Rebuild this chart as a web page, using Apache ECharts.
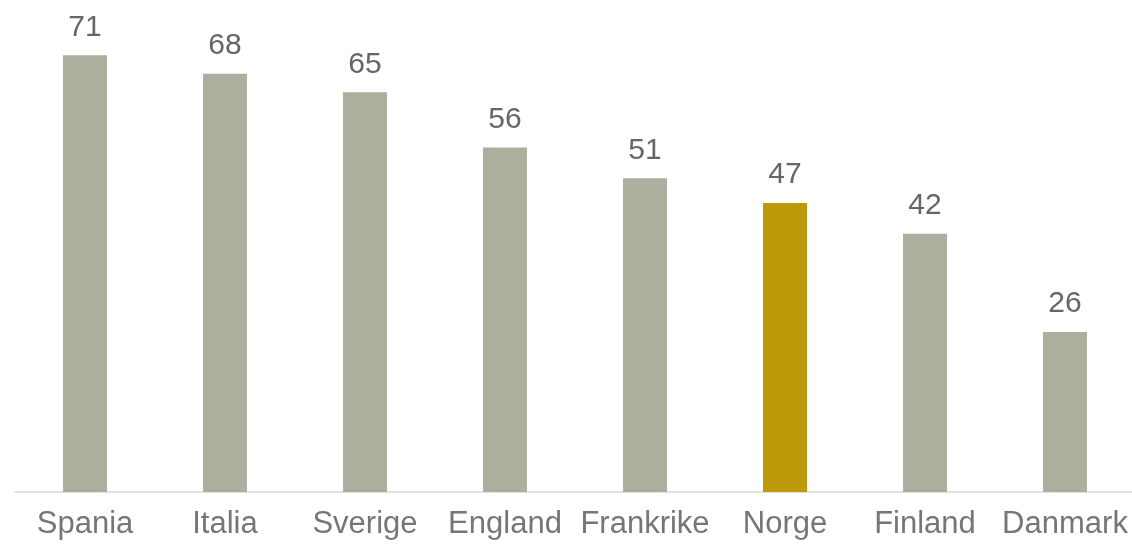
<!DOCTYPE html>
<html><head><meta charset="utf-8">
<script src="https://cdn.jsdelivr.net/npm/echarts@6/dist/echarts.min.js"></script>
<style>html,body{margin:0;padding:0;background:#fff;overflow:hidden;width:1132px;height:546px}#c{width:1140px;height:546px}</style>
</head><body><div id="c"></div>
<script>
const categories = ["Spania","Italia","Sverige","England","Frankrike","Norge","Finland","Danmark"];
const values = [71,68,65,56,51,47,42,26];
const highlight = "Norge";

const chart = echarts.init(document.getElementById('c'), null, {renderer:'canvas'});
chart.setOption({
  animation:false,
  grid:{left:15, top:0, bottom:54, width:1120, containLabel:false},
  xAxis:{type:'category', data:categories,
    axisLine:{lineStyle:{color:'#d9d9d9', width:1.5}},
    axisTick:{show:false},
    axisLabel:{color:'#767676', fontSize:31, fontFamily:'Liberation Sans, Arial', margin:17, interval:0}},
  yAxis:{type:'value', min:0, max:80, show:false, splitLine:{show:false}},
  series:[{type:'bar', barWidth:44,
    data: values.map((v,i)=>({value:v, itemStyle:{color: categories[i]===highlight ? '#bc9a0a' : '#adae9e'}})),
    label:{show:true, position:'top', distance:13, color:'#666666', fontSize:30, fontFamily:'Liberation Sans, Arial'}}]
});
</script></body></html>
